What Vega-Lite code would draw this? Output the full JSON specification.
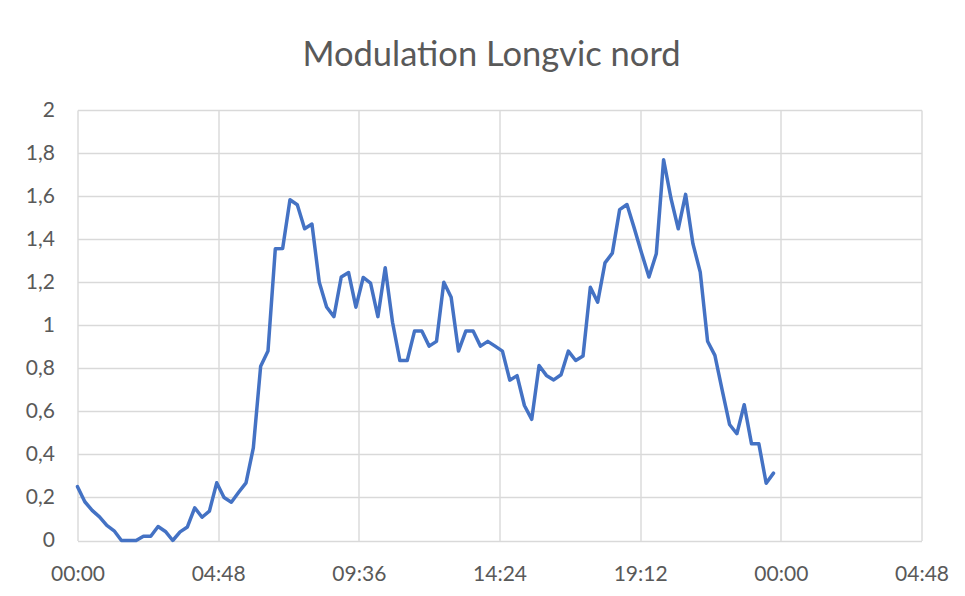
{
  "$schema": "https://vega.github.io/schema/vega-lite/v6.json",
  "autosize": {"type": "none"},
  "width": 844,
  "height": 430.5,
  "padding": {"left": 77.5, "top": 110, "right": 43.5, "bottom": 55.5},
  "background": "white",
  "title": {
    "text": "Modulation Longvic nord",
    "font": "Lato",
    "fontSize": 34.5,
    "fontWeight": "normal",
    "color": "#595959",
    "anchor": "middle",
    "frame": "group",
    "dx": -8,
    "offset": 26
  },
  "config": {
    "view": {"stroke": null},
    "axis": {
      "labelFont": "Lato",
      "labelFontSize": 21,
      "labelColor": "#595959",
      "gridColor": "#d9d9d9",
      "gridWidth": 1.4,
      "domain": false,
      "ticks": false,
      "tickSize": 0,
      "title": null
    }
  },
  "data": {
    "values": [
      {"h": 0, "v": 0.25}, {"h": 0.25, "v": 0.18}, {"h": 0.5, "v": 0.14}, {"h": 0.75, "v": 0.11},
      {"h": 1, "v": 0.07}, {"h": 1.25, "v": 0.045}, {"h": 1.5, "v": 0}, {"h": 1.75, "v": 0},
      {"h": 2, "v": 0}, {"h": 2.25, "v": 0.02}, {"h": 2.5, "v": 0.02}, {"h": 2.75, "v": 0.065},
      {"h": 3, "v": 0.042}, {"h": 3.25, "v": 0}, {"h": 3.5, "v": 0.04}, {"h": 3.75, "v": 0.063},
      {"h": 4, "v": 0.152}, {"h": 4.25, "v": 0.108}, {"h": 4.5, "v": 0.136}, {"h": 4.75, "v": 0.268},
      {"h": 5, "v": 0.2}, {"h": 5.25, "v": 0.178}, {"h": 5.5, "v": 0.224}, {"h": 5.75, "v": 0.268},
      {"h": 6, "v": 0.43}, {"h": 6.25, "v": 0.81}, {"h": 6.5, "v": 0.88}, {"h": 6.75, "v": 1.355},
      {"h": 7, "v": 1.357}, {"h": 7.25, "v": 1.583}, {"h": 7.5, "v": 1.56}, {"h": 7.75, "v": 1.448},
      {"h": 8, "v": 1.47}, {"h": 8.25, "v": 1.2}, {"h": 8.5, "v": 1.085}, {"h": 8.75, "v": 1.04},
      {"h": 9, "v": 1.224}, {"h": 9.25, "v": 1.245}, {"h": 9.5, "v": 1.084}, {"h": 9.75, "v": 1.222},
      {"h": 10, "v": 1.196}, {"h": 10.25, "v": 1.04}, {"h": 10.5, "v": 1.267}, {"h": 10.75, "v": 1.014},
      {"h": 11, "v": 0.836}, {"h": 11.25, "v": 0.836}, {"h": 11.5, "v": 0.973}, {"h": 11.75, "v": 0.973},
      {"h": 12, "v": 0.903}, {"h": 12.25, "v": 0.925}, {"h": 12.5, "v": 1.2}, {"h": 12.75, "v": 1.13},
      {"h": 13, "v": 0.88}, {"h": 13.25, "v": 0.973}, {"h": 13.5, "v": 0.973}, {"h": 13.75, "v": 0.903},
      {"h": 14, "v": 0.925}, {"h": 14.25, "v": 0.903}, {"h": 14.5, "v": 0.88}, {"h": 14.75, "v": 0.745},
      {"h": 15, "v": 0.766}, {"h": 15.25, "v": 0.627}, {"h": 15.5, "v": 0.563}, {"h": 15.75, "v": 0.813},
      {"h": 16, "v": 0.767}, {"h": 16.25, "v": 0.746}, {"h": 16.5, "v": 0.77}, {"h": 16.75, "v": 0.88},
      {"h": 17, "v": 0.836}, {"h": 17.25, "v": 0.857}, {"h": 17.5, "v": 1.177}, {"h": 17.75, "v": 1.107},
      {"h": 18, "v": 1.29}, {"h": 18.25, "v": 1.335}, {"h": 18.5, "v": 1.537}, {"h": 18.75, "v": 1.561},
      {"h": 19, "v": 1.45}, {"h": 19.25, "v": 1.335}, {"h": 19.5, "v": 1.224}, {"h": 19.75, "v": 1.332},
      {"h": 20, "v": 1.769}, {"h": 20.25, "v": 1.59}, {"h": 20.5, "v": 1.448}, {"h": 20.75, "v": 1.608},
      {"h": 21, "v": 1.379}, {"h": 21.25, "v": 1.247}, {"h": 21.5, "v": 0.926}, {"h": 21.75, "v": 0.86},
      {"h": 22, "v": 0.697}, {"h": 22.25, "v": 0.539}, {"h": 22.5, "v": 0.496}, {"h": 22.75, "v": 0.631},
      {"h": 23, "v": 0.449}, {"h": 23.25, "v": 0.449}, {"h": 23.5, "v": 0.266}, {"h": 23.75, "v": 0.313}
    ]
  },
  "mark": {"type": "line", "color": "#4472C4", "strokeWidth": 3.5, "strokeJoin": "round", "strokeCap": "round", "clip": false},
  "encoding": {
    "x": {
      "field": "h",
      "type": "quantitative",
      "scale": {"domain": [0, 28.8], "nice": false, "zero": false},
      "axis": {
        "values": [0, 4.8, 9.6, 14.4, 19.2, 24, 28.8],
        "labelExpr": "utcFormat(round(datum.value * 60) * 60000, '%H:%M')",
        "labelPadding": 23,
        "labelFlush": false,
        "labelOverlap": false
      }
    },
    "y": {
      "field": "v",
      "type": "quantitative",
      "scale": {"domain": [0, 2], "nice": false},
      "axis": {
        "values": [0, 0.2, 0.4, 0.6, 0.8, 1, 1.2, 1.4, 1.6, 1.8, 2],
        "labelExpr": "replace(toString(round(datum.value * 10) / 10), '.', ',')",
        "labelPadding": 23,
        "labelOverlap": false
      }
    }
  }
}
